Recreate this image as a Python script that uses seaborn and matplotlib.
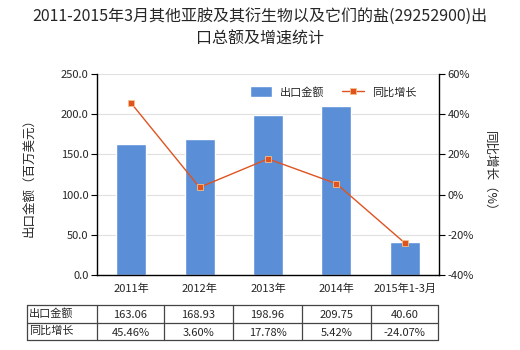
import matplotlib
matplotlib.use("Agg")
import matplotlib.pyplot as plt
import seaborn as sns
import pandas as pd
import numpy as np

categories = ["2011年", "2012年", "2013年", "2014年", "2015年1-3月"]
export_values = [163.06, 168.93, 198.96, 209.75, 40.60]
growth_rates = [45.46, 3.60, 17.78, 5.42, -24.07]
export_labels = ["163.06", "168.93", "198.96", "209.75", "40.60"]
growth_labels = ["45.46%", "3.60%", "17.78%", "5.42%", "-24.07%"]
row_names = ["出口金额", "同比增长"]

sns.set_theme(style="white")
plt.rcParams['font.family'] = ['Noto Sans CJK SC', 'DejaVu Sans']
plt.rcParams['axes.unicode_minus'] = False

W, H = 520, 350
fig = plt.figure(figsize=(W / 100, H / 100), dpi=100)

def rect(x0, y0, x1, y1):
    return [x0 / W, 1 - y1 / H, (x1 - x0) / W, (y1 - y0) / H]

ax = fig.add_axes(rect(97, 74, 439, 275))
df = pd.DataFrame({"cat": categories, "val": export_values, "g": growth_rates})

bar_color = "#5a8fd8"
line_color = "#e0531f"
sns.barplot(data=df, x="cat", y="val", ax=ax, color=bar_color, width=0.44,
            saturation=1, label="出口金额")
ax.set_ylim(0, 250)
ax.set_yticks(np.arange(0, 251, 50))
ax.set_yticklabels([f"{v:.1f}" for v in np.arange(0, 251, 50)], fontsize=8)
ax.set_xlim(-0.5, 4.5)
ax.set_xlabel("")
ax.set_ylabel("出口金额（百万美元）", fontsize=9, labelpad=18)
ax.tick_params(axis="x", labelsize=8, length=0, pad=6)
ax.tick_params(axis="y", length=4, width=0.8, color="black", pad=2, left=True)
ax.grid(axis="y", color="#e0e0e0", linewidth=0.8)
ax.set_axisbelow(True)
for s in ["top", "right"]:
    ax.spines[s].set_visible(False)
ax.spines["left"].set_color("black")
ax.spines["bottom"].set_color("black")
ax.spines["left"].set_linewidth(1)
ax.spines["bottom"].set_linewidth(1)

ax2 = ax.twinx()
sns.lineplot(x=np.arange(len(categories)), y=growth_rates, ax=ax2, color=line_color,
             linewidth=1, marker="s", markersize=4, markerfacecolor=line_color,
             markeredgecolor="#f5c08a", markeredgewidth=0.6, label="同比增长")
ax2.set_ylim(-40, 60)
ax2.set_yticks(np.arange(-40, 61, 20))
ax2.set_yticklabels([f"{v}%" for v in range(-40, 61, 20)], fontsize=8)
ax2.set_ylabel("同比增长（%）", fontsize=9, rotation=270, labelpad=16)
ax2.tick_params(axis="y", length=4, width=0.8, color="black", pad=2, right=True)
for s in ["top", "left", "bottom"]:
    ax2.spines[s].set_visible(False)
ax2.spines["right"].set_color("black")
ax2.spines["right"].set_linewidth(1)
ax2.grid(False)
if ax2.get_legend():
    ax2.get_legend().remove()
if ax.get_legend():
    ax.get_legend().remove()

h1, l1 = ax.get_legend_handles_labels()
h2, l2 = ax2.get_legend_handles_labels()
fig.legend(h1 + h2, l1 + l2, loc="center", bbox_to_anchor=(333 / W, 1 - 92 / H),
           ncol=2, frameon=False, fontsize=8, handlelength=2.0, handleheight=1.1,
           columnspacing=1.6, handletextpad=0.7)

fig.suptitle("2011-2015年3月其他亚胺及其衍生物以及它们的盐(29252900)出\n口总额及增速统计",
             fontsize=11.5, y=1 - 8 / H, va="top", linespacing=1.45)

# data table
tax = fig.add_axes([0, 0, 1, 1])
tax.set_xlim(0, W)
tax.set_ylim(H, 0)
tax.axis("off")
xs = [27, 97, 164, 233, 302, 371, 438]
ys = [305, 323, 340]
for y in ys:
    tax.plot([xs[0], xs[-1]], [y, y], color="#444444", lw=0.9)
for x in xs:
    tax.plot([x, x], [ys[0], ys[-1]], color="#444444", lw=0.9)
rows = [export_labels, growth_labels]
for r in range(2):
    yc = (ys[r] + ys[r + 1]) / 2
    tax.text(xs[0] + 2, yc - 1, row_names[r], fontsize=8, va="center", ha="left")
    for c in range(5):
        tax.text((xs[c + 1] + xs[c + 2]) / 2, yc + 1, rows[r][c], fontsize=8,
                 va="center", ha="center")

fig.savefig("out.png", dpi=100)
